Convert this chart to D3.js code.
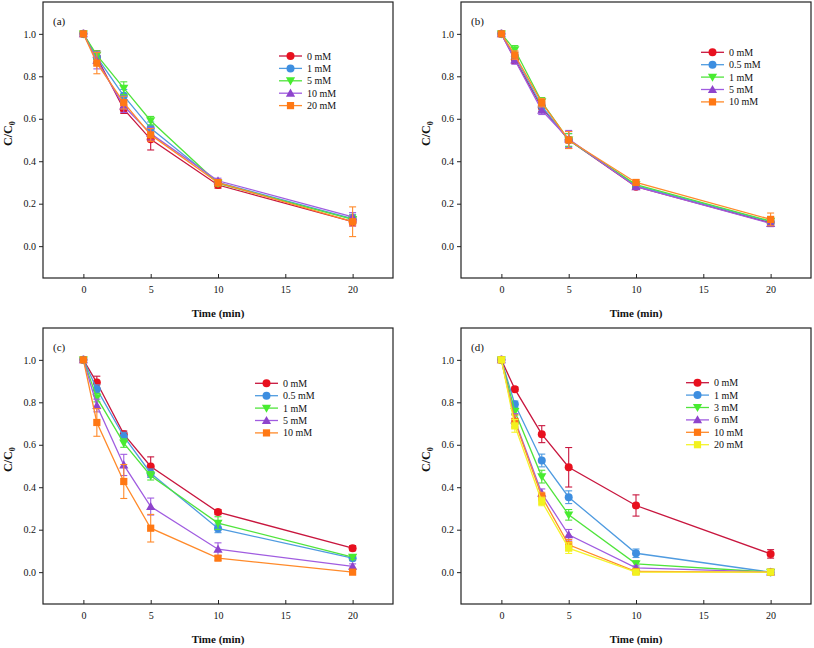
<!DOCTYPE html>
<html>
<head>
<meta charset="utf-8">
<script src="https://cdn.jsdelivr.net/npm/d3@7"></script>
<style>
  html, body { margin: 0; padding: 0; background: #fff; }
  svg text { font-family: "Liberation Serif", "Times New Roman", serif; fill: #111; }
</style>
</head>
<body>
<svg id="chart" width="814" height="648"></svg>
<script>
// ---------- DATA ----------
const timeMin = [0, 1, 3, 5, 10, 20];
const xTicks = [0, 5, 10, 15, 20];
const yTicks = [0.0, 0.2, 0.4, 0.6, 0.8, 1.0];
const panelLabels = ["(a)", "(b)", "(c)", "(d)"];
const xTitle = "Time (min)";

// Panel (a)
const legendA = ["0 mM", "1 mM", "5 mM", "10 mM", "20 mM"];
const valuesA = [
  [1.0, 0.89, 0.645, 0.503, 0.288, 0.115],
  [1.0, 0.89, 0.708, 0.555, 0.300, 0.130],
  [1.0, 0.90, 0.744, 0.591, 0.296, 0.126],
  [1.0, 0.875, 0.660, 0.530, 0.308, 0.138],
  [1.0, 0.862, 0.676, 0.524, 0.299, 0.115]
];
const errorsA = [
  [0.005, 0.03, 0.02, 0.05, 0.015, 0.02],
  [0.005, 0.02, 0.03, 0.03, 0.012, 0.02],
  [0.005, 0.02, 0.03, 0.02, 0.012, 0.02],
  [0.005, 0.04, 0.03, 0.03, 0.012, 0.02],
  [0.005, 0.05, 0.03, 0.03, 0.015, 0.07]
];

// Panel (b)
const legendB = ["0 mM", "0.5 mM", "1 mM", "5 mM", "10 mM"];
const valuesB = [
  [1.0, 0.88, 0.654, 0.500, 0.280, 0.110],
  [1.0, 0.893, 0.660, 0.500, 0.285, 0.115],
  [1.0, 0.925, 0.680, 0.500, 0.290, 0.118],
  [1.0, 0.877, 0.640, 0.505, 0.280, 0.107],
  [1.0, 0.900, 0.676, 0.500, 0.300, 0.126]
];
const errorsB = [
  [0.005, 0.02, 0.02, 0.04, 0.012, 0.015],
  [0.005, 0.02, 0.02, 0.03, 0.012, 0.015],
  [0.005, 0.02, 0.02, 0.03, 0.012, 0.015],
  [0.005, 0.02, 0.02, 0.04, 0.012, 0.015],
  [0.005, 0.02, 0.02, 0.04, 0.012, 0.03]
];

// Panel (c)
const legendC = ["0 mM", "0.5 mM", "1 mM", "5 mM", "10 mM"];
const valuesC = [
  [1.0, 0.893, 0.650, 0.498, 0.283, 0.113],
  [1.0, 0.862, 0.639, 0.466, 0.206, 0.066],
  [1.0, 0.822, 0.608, 0.454, 0.231, 0.071],
  [1.0, 0.785, 0.505, 0.309, 0.108, 0.027],
  [1.0, 0.705, 0.427, 0.207, 0.066, 0.000]
];
const errorsC = [
  [0.005, 0.03, 0.015, 0.045, 0.012, 0.012],
  [0.005, 0.02, 0.02, 0.02, 0.02, 0.012],
  [0.005, 0.02, 0.02, 0.02, 0.03, 0.012],
  [0.005, 0.03, 0.05, 0.04, 0.03, 0.012],
  [0.005, 0.065, 0.08, 0.065, 0.01, 0.005]
];

// Panel (d)
const legendD = ["0 mM", "1 mM", "3 mM", "6 mM", "10 mM", "20 mM"];
const valuesD = [
  [1.0, 0.862, 0.650, 0.494, 0.314, 0.086],
  [1.0, 0.791, 0.526, 0.353, 0.089, 0.000],
  [1.0, 0.757, 0.450, 0.270, 0.039, 0.000],
  [1.0, 0.717, 0.372, 0.176, 0.020, 0.000],
  [1.0, 0.710, 0.356, 0.129, 0.003, 0.000],
  [1.0, 0.689, 0.333, 0.113, 0.000, 0.000]
];
const errorsD = [
  [0.005, 0.01, 0.04, 0.093, 0.05, 0.02],
  [0.005, 0.015, 0.03, 0.03, 0.02, 0.005],
  [0.005, 0.015, 0.03, 0.025, 0.015, 0.005],
  [0.005, 0.03, 0.02, 0.025, 0.01, 0.005],
  [0.005, 0.03, 0.02, 0.025, 0.01, 0.005],
  [0.005, 0.03, 0.02, 0.025, 0.01, 0.005]
];

// ---------- STYLE / LAYOUT ----------
const lineColors = ["#c8163e", "#4f9be0", "#50e43c", "#a05ce0", "#ff8a2a", "#f4f42c"];
const fillColors = ["#e8101e", "#3d8ee0", "#48ec30", "#8e44cc", "#ff7814", "#f2f21e"];
const markerTypes = ["circle", "circle", "down", "up", "square", "square"];

const panels = [
  { label: panelLabels[0], legend: legendA, values: valuesA, errors: errorsA, left: 43, top: 2, lx: 236, ly: 54 },
  { label: panelLabels[1], legend: legendB, values: valuesB, errors: errorsB, left: 461, top: 2, lx: 240, ly: 50.3 },
  { label: panelLabels[2], legend: legendC, values: valuesC, errors: errorsC, left: 43, top: 328, lx: 212, ly: 55.3 },
  { label: panelLabels[3], legend: legendD, values: valuesD, errors: errorsD, left: 461, top: 328, lx: 225, ly: 54.7 }
];
const PW = 350, PH = 276;
const rowGap = 12.4;

const svg = d3.select("#chart");

function drawMarker(g, type, cx, cy, fill) {
  if (type === "circle") {
    g.append("circle").attr("cx", cx).attr("cy", cy).attr("r", 4).attr("fill", fill);
  } else if (type === "square") {
    g.append("rect").attr("x", cx - 3.6).attr("y", cy - 3.6).attr("width", 7.2).attr("height", 7.2).attr("fill", fill);
  } else {
    const s = 4.6;
    const pts = type === "up"
      ? [[cx, cy - s], [cx + s, cy + s * 0.75], [cx - s, cy + s * 0.75]]
      : [[cx, cy + s], [cx + s, cy - s * 0.75], [cx - s, cy - s * 0.75]];
    g.append("path").attr("d", "M" + pts.map(p => p.join(",")).join("L") + "Z").attr("fill", fill);
  }
}

panels.forEach(p => {
  const x = d3.scaleLinear().domain([-3, 23]).range([p.left, p.left + PW]);
  const y = d3.scaleLinear().domain([-0.15, 1.15]).range([p.top + PH, p.top]);
  const g = svg.append("g");

  // frame
  g.append("rect").attr("x", p.left).attr("y", p.top).attr("width", PW).attr("height", PH)
    .attr("fill", "none").attr("stroke", "#222").attr("stroke-width", 1.2);

  // y axis
  const yAxis = d3.axisLeft(y).tickValues(yTicks).tickFormat(d3.format(".1f")).tickSize(4).tickPadding(3);
  const ya = g.append("g").attr("transform", `translate(${p.left},0)`).call(yAxis);
  ya.select(".domain").remove();
  ya.selectAll("line").attr("stroke", "#222");
  ya.selectAll("text").style("font-size", "10px").style("font-family", "Liberation Serif, serif").attr("fill", "#111");

  // x axis
  const xAxis = d3.axisBottom(x).tickValues(xTicks).tickFormat(d3.format("d")).tickSizeInner(-4).tickSizeOuter(0).tickPadding(8);
  const xa = g.append("g").attr("transform", `translate(0,${p.top + PH})`).call(xAxis);
  xa.select(".domain").remove();
  xa.selectAll("line").attr("stroke", "#222");
  xa.selectAll("text").style("font-size", "10px").style("font-family", "Liberation Serif, serif").attr("fill", "#111");

  // axis titles
  g.append("text").attr("x", p.left + PW / 2).attr("y", p.top + PH + 39)
    .attr("text-anchor", "middle").style("font-size", "11px").style("font-weight", "bold").text(xTitle);
  const yt = g.append("text")
    .attr("transform", `translate(${p.left - 31},${y(0.53)}) rotate(-90)`)
    .attr("text-anchor", "middle").style("font-size", "12px").style("font-weight", "bold");
  yt.append("tspan").text("C/C");
  yt.append("tspan").attr("dy", 3).style("font-size", "8px").text("0");

  // panel label
  g.append("text").attr("x", p.left + 10).attr("y", p.top + 23).style("font-size", "11px").text(p.label);

  // series
  const line = d3.line().x((d, i) => x(timeMin[i])).y(d => y(d));
  p.values.forEach((vals, s) => {
    const sg = g.append("g");
    sg.append("path").datum(vals).attr("d", line).attr("fill", "none")
      .attr("stroke", lineColors[s]).attr("stroke-width", 1.3);
    vals.forEach((v, i) => {
      const e = p.errors[s][i];
      const cx = x(timeMin[i]);
      if (e > 0.006) {
        sg.append("line").attr("x1", cx).attr("x2", cx).attr("y1", y(v - e)).attr("y2", y(v + e))
          .attr("stroke", lineColors[s]).attr("stroke-width", 1.1);
        [v - e, v + e].forEach(w => {
          sg.append("line").attr("x1", cx - 3.5).attr("x2", cx + 3.5).attr("y1", y(w)).attr("y2", y(w))
            .attr("stroke", lineColors[s]).attr("stroke-width", 1.1);
        });
      }
      drawMarker(sg, markerTypes[s], cx, y(v), fillColors[s]);
    });
  });

  // legend
  const lg = g.append("g");
  p.legend.forEach((name, s) => {
    const lx = p.left + p.lx, ly = p.top + p.ly + s * rowGap;
    lg.append("line").attr("x1", lx).attr("x2", lx + 23).attr("y1", ly).attr("y2", ly)
      .attr("stroke", lineColors[s]).attr("stroke-width", 1.3);
    drawMarker(lg, markerTypes[s], lx + 11.5, ly, fillColors[s]);
    lg.append("text").attr("x", lx + 28).attr("y", ly).attr("dy", "0.35em")
      .style("font-size", "10px").text(name);
  });
});
</script>
</body>
</html>
